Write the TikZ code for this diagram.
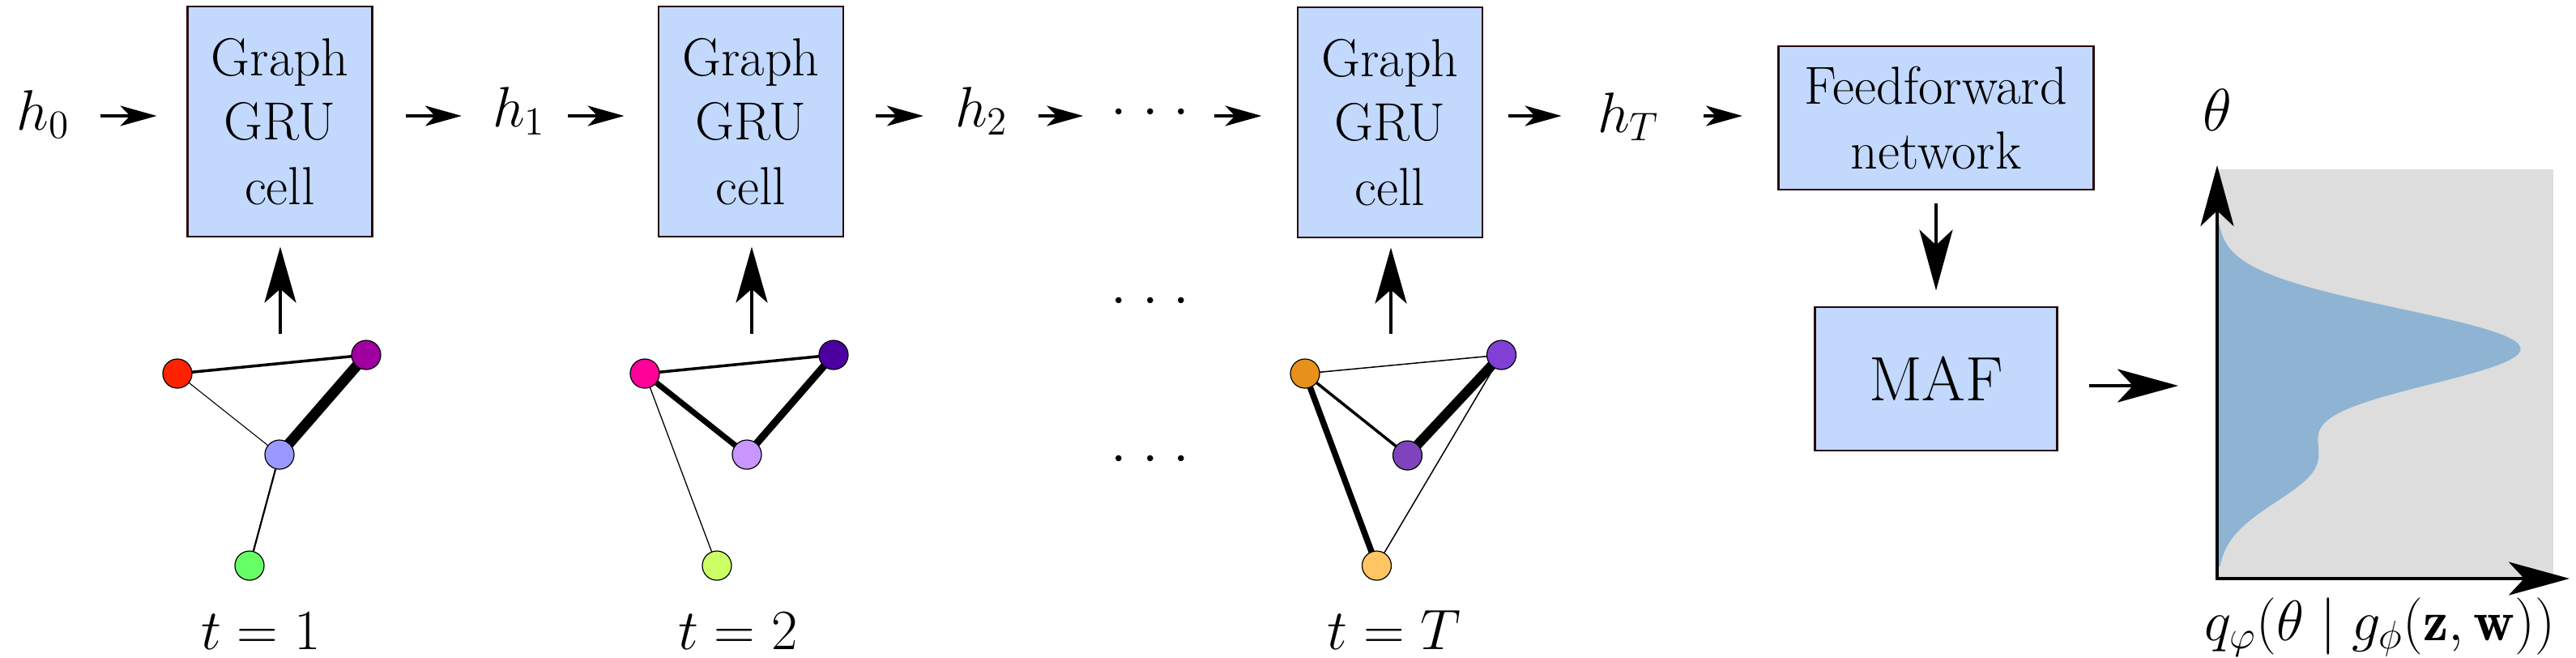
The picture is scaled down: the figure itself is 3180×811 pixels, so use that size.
\RequirePackage{fix-cm}
\documentclass[tikz,border=0pt]{standalone}
\usepackage{fontspec}
\usetikzlibrary{arrows.meta,backgrounds}
\definecolor{boxfill}{RGB}{194,216,252}
\definecolor{boxline}{RGB}{40,8,8}
\definecolor{plotgray}{RGB}{221,221,221}
\definecolor{distblue}{RGB}{143,180,211}
\definecolor{cRed}{RGB}{255,34,0}
\definecolor{cPurA}{RGB}{160,0,159}
\definecolor{cBlu}{RGB}{153,153,255}
\definecolor{cGrn}{RGB}{102,255,102}
\definecolor{cPink}{RGB}{255,0,153}
\definecolor{cDk}{RGB}{76,0,160}
\definecolor{cLav}{RGB}{200,150,255}
\definecolor{cYg}{RGB}{204,255,102}
\definecolor{cOr}{RGB}{232,145,26}
\definecolor{cTp}{RGB}{128,64,214}
\definecolor{cMd}{RGB}{126,68,188}
\definecolor{cLo}{RGB}{255,196,99}
\newcommand{\mydots}{$\cdotp\kern2pt\cdotp\kern2pt\cdotp$}
\begin{document}
\begin{tikzpicture}[x=0.01cm,y=-0.01cm,
  gru/.style={draw=boxline,fill=boxfill,line width=0.028cm,inner sep=0pt,
    minimum width=2.28cm,minimum height=2.84cm,align=center,
    font=\fontsize{18.8}{22.6}\selectfont},
  ffbox/.style={draw=boxline,fill=boxfill,line width=0.028cm,inner sep=0pt,
    minimum width=3.89cm,minimum height=1.77cm,align=center,
    font=\fontsize{18.8}{22.6}\selectfont},
  mafbox/.style={draw=boxline,fill=boxfill,line width=0.028cm,inner sep=0pt,
    minimum width=2.99cm,minimum height=1.77cm,
    font=\fontsize{22}{26}\selectfont},
  lab/.style={inner sep=0pt,font=\fontsize{20}{24}\selectfont},
  arr/.style={line width=0.033cm,-{Stealth[length=0.45cm,width=0.25cm,inset=0.12cm]}},
  bigarr/.style={line width=0.04cm,-{Stealth[length=0.69cm,width=0.39cm,inset=0.17cm]}},
  plotarr/.style={line width=0.04cm,-{Stealth[length=0.75cm,width=0.41cm,inset=0.19cm]}},
  gnode/.style={circle,draw=black,line width=0.012cm,minimum size=0.36cm,inner sep=0pt},
  ew/.style={line width=#1*0.01cm}
]
\useasboundingbox (0,0) rectangle (3180,811);
\coordinate (row) at (0,143);

% GRU cells
\node[gru] (b1) at (345.5,150) {Graph\\GRU\\cell};
\node[gru] (b2) at (927,150) {Graph\\GRU\\cell};
\node[gru] (b3) at (1716,151) {Graph\\GRU\\cell};
\node[ffbox] (ff) at (2390,145.5) {Feedforward\\network};
\node[mafbox] (maf) at (2390,467.5) {MAF};

% hidden states
\node[lab,anchor=base] (h0) at (53.5,160) {$h_0$};
\node[lab,anchor=base] (h1) at (641,156) {$h_1$};
\node[lab,anchor=base] (h2) at (1212,156) {$h_2$};
\node[lab,anchor=base] (hT) at (2010.5,163) {$h_T$};
\node[lab] (d0) at (1420,140) {\mydots};
\node[lab] (d1) at (1420,373) {\mydots};
\node[lab] (d2) at (1420,568) {\mydots};

% horizontal arrows
\draw[arr,shorten <=0.37cm,shorten >=0.365cm] (h0.east |- row) -- (b1.west |- row);
\draw[arr,shorten <=0.405cm,shorten >=0.376cm] (b1.east |- row) -- (h1.west |- row);
\draw[arr,shorten <=0.27cm,shorten >=0.41cm] (h1.east |- row) -- (b2.west |- row);
\draw[arr,shorten <=0.39cm,shorten >=0.386cm] (b2.east |- row) -- (h2.west |- row);
\draw[arr,shorten <=0.366cm,shorten >=0.34cm] (h2.east |- row) -- (d0.west |- row);
\draw[arr,shorten <=0.3cm,shorten >=0.43cm] (d0.east |- row) -- (b3.west |- row);
\draw[arr,shorten <=0.31cm,shorten >=0.44cm] (b3.east |- row) -- (hT.west |- row);
\draw[arr,shorten <=0.54cm,shorten >=0.43cm] (hT.east |- row) -- (ff.west |- row);

% graph 1
\node[gnode,fill=cRed] (a1) at (219,461) {};
\node[gnode,fill=cPurA] (a2) at (452,438) {};
\node[gnode,fill=cBlu] (a3) at (345,561) {};
\node[gnode,fill=cGrn] (a4) at (308,698) {};
% graph 2
\node[gnode,fill=cPink] (c1) at (796,461) {};
\node[gnode,fill=cDk] (c2) at (1029,438) {};
\node[gnode,fill=cLav] (c3) at (922,561) {};
\node[gnode,fill=cYg] (c4) at (885,698) {};
% graph 3
\node[gnode,fill=cOr] (e1) at (1611,461) {};
\node[gnode,fill=cTp] (e2) at (1853.5,438) {};
\node[gnode,fill=cMd] (e3) at (1737.5,562) {};
\node[gnode,fill=cLo] (e4) at (1699.5,698) {};

\begin{scope}[on background layer]
\draw[ew=3.5] (a1.center) -- (a2.center);
\draw[ew=1.1] (a1.center) -- (a3.center);
\draw[ew=13] (a2.center) -- (a3.center);
\draw[ew=2.2] (a3.center) -- (a4.center);
\draw[ew=3.5] (c1.center) -- (c2.center);
\draw[ew=7] (c1.center) -- (c3.center);
\draw[ew=9] (c2.center) -- (c3.center);
\draw[ew=1.3] (c1.center) -- (c4.center);
\draw[ew=1.5] (e1.center) -- (e2.center);
\draw[ew=3.5] (e1.center) -- (e3.center);
\draw[ew=7.5] (e1.center) -- (e4.center);
\draw[ew=12] (e2.center) -- (e3.center);
\draw[ew=1.5] (e2.center) -- (e4.center);
\end{scope}

% inputs to cells
\coordinate (g1in) at (346,412);
\coordinate (g2in) at (928,412);
\coordinate (g3in) at (1717,412);
\draw[bigarr,shorten >=0.11cm] (g1in) -- (g1in |- b1.south);
\draw[bigarr,shorten >=0.11cm] (g2in) -- (g2in |- b2.south);
\draw[bigarr,shorten >=0.11cm] (g3in) -- (g3in |- b3.south);

\node[lab,anchor=base] (t1) at (322,801) {$t=1$};
\node[lab,anchor=base] (t2) at (911,801) {$t=2$};
\node[lab,anchor=base] (tT) at (1721,801) {$t=T$};

% FF -> MAF -> plot
\draw[plotarr,shorten <=0.16cm,shorten >=0.19cm] (ff.south) -- (maf.north);
\coordinate (pin) at (2689,476);
\draw[plotarr,shorten <=0.38cm] (maf.east |- pin) -- (pin);

% plot
\fill[plotgray] (2735,209) rectangle (3152,714);
\fill[distblue] (2737,277) -- plot[variable=\t,domain=277:699,samples=180]
  ({2737+373*exp(-0.5*((\t-430)/49)^2)+118*exp(-0.5*((\t-572)/48)^2)},{\t}) -- (2737,699) -- cycle;
\coordinate (org) at (2737,714);
\coordinate (ytip) at (2737,204);
\coordinate (xtip) at (3172,714);
\draw[plotarr,shorten <=-0.02cm] (org) -- (ytip);
\draw[plotarr,shorten <=-0.02cm] (org) -- (xtip);
\node[lab,font=\fontsize{21}{25}\selectfont] (th) at (2737,136) {$\theta$};
\node[lab,anchor=base] (ql) at (2938,790) {$q_\varphi(\theta \mid g_\phi(\mathbf{z},\mathbf{w}))$};
\end{tikzpicture}
\end{document}
